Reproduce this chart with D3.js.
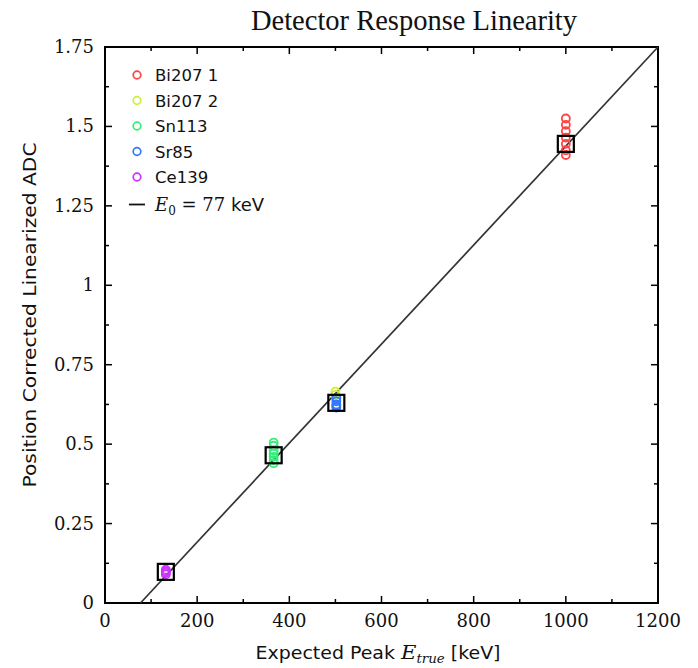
<!DOCTYPE html>
<html>
<head>
<meta charset="utf-8">
<script src="https://cdn.jsdelivr.net/npm/d3@7"></script>
<style>
  body { margin: 0; background: #fff; }
  svg { display: block; }
</style>
</head>
<body>
<svg id="plot" width="698" height="668"></svg>
<script>
// data
const sources = ["Bi207 1", "Bi207 2", "Sn113", "Sr85", "Ce139"];
const sourceColors = ["#ff4444", "#ccf033", "#33ee77", "#3377ff", "#cc33ff"];
const sourceEnergy = [1000, 500, 366, 502, 132];
const sourceValues = [
  [1.525, 1.505, 1.485, 1.465, 1.445, 1.425, 1.41],
  [0.665, 0.655],
  [0.505, 0.495, 0.48, 0.47, 0.46, 0.45, 0.44],
  [0.645, 0.635, 0.625, 0.62, 0.615],
  [0.105, 0.1, 0.095, 0.09]
];
const meanEnergy = [1000, 366, 502, 132];
const meanValues = [1.445, 0.465, 0.63, 0.098];
const fitE0 = 77;
const fitLine = [[fitE0, 0], [1200, 1.75]];
const xTicks = [0, 200, 400, 600, 800, 1000, 1200];
const xMinor = [100, 300, 500, 700, 900, 1100];
const yTicks = [0, 0.25, 0.5, 0.75, 1, 1.25, 1.5, 1.75];
const yMinor = [0.125, 0.375, 0.625, 0.875, 1.125, 1.375, 1.625];

const svg = d3.select("#plot");
const margin = { top: 47, right: 40, bottom: 65, left: 105 };
const panel = { width: 698 - margin.left - margin.right, height: 668 - margin.top - margin.bottom };

const x = d3.scaleLinear([0, 1200], [0, panel.width]);
const y = d3.scaleLinear([0, 1.75], [panel.height, 0]);

const g = svg.append("g").attr("transform", `translate(${margin.left}, ${margin.top})`);

// frame
g.append("rect")
  .attr("width", panel.width).attr("height", panel.height)
  .attr("fill", "none").attr("stroke", "#000").attr("stroke-width", 2);

// ticks, inward on all four sides
const tickG = g.append("g").attr("stroke", "#000").attr("stroke-width", 1.5);
const tick = (vals, len) => {
  vals.forEach(v => {
    tickG.append("line").attr("x1", x(v)).attr("x2", x(v)).attr("y1", panel.height).attr("y2", panel.height - len);
    tickG.append("line").attr("x1", x(v)).attr("x2", x(v)).attr("y1", 0).attr("y2", len);
  });
};
const tickY = (vals, len) => {
  vals.forEach(v => {
    tickG.append("line").attr("y1", y(v)).attr("y2", y(v)).attr("x1", 0).attr("x2", len);
    tickG.append("line").attr("y1", y(v)).attr("y2", y(v)).attr("x1", panel.width).attr("x2", panel.width - len);
  });
};
tick(xTicks.slice(1, -1), 7);
tick(xMinor, 4);
tickY(yTicks.slice(1, -1), 7);
tickY(yMinor, 4);

// tick labels
const labelFont = "'DejaVu Serif', serif";
g.selectAll(".xlab").data(xTicks).join("text")
  .attr("x", d => x(d)).attr("y", panel.height + 24)
  .attr("text-anchor", "middle")
  .attr("font-family", labelFont).attr("font-size", 18).attr("fill", "#111")
  .text(d => d);
g.selectAll(".ylab").data(yTicks).join("text")
  .attr("x", -11).attr("y", d => y(d) + 6)
  .attr("text-anchor", "end")
  .attr("font-family", labelFont).attr("font-size", 18).attr("fill", "#111")
  .text(d => d);

// fit line
g.append("path")
  .datum(fitLine)
  .attr("d", d3.line().x(d => x(d[0])).y(d => y(d[1])))
  .attr("stroke", "#333").attr("stroke-width", 1.7).attr("fill", "none");

// data points
sources.forEach((s, i) => {
  g.selectAll(".pt" + i).data(sourceValues[i]).join("circle")
    .attr("cx", x(sourceEnergy[i])).attr("cy", d => y(d))
    .attr("r", 4)
    .attr("fill", "none").attr("stroke", sourceColors[i]).attr("stroke-width", 1.8);
});

// mean markers
g.selectAll(".mean").data(meanValues).join("rect")
  .attr("x", (d, i) => x(meanEnergy[i]) - 8)
  .attr("y", d => y(d) - 8)
  .attr("width", 16).attr("height", 16)
  .attr("fill", "none").attr("stroke", "#000").attr("stroke-width", 2.2);

// legend
const legend = g.append("g").attr("transform", "translate(32, 28)");
sources.forEach((s, i) => {
  legend.append("circle").attr("cx", 0).attr("cy", i * 25.5)
    .attr("r", 3.8).attr("fill", "none").attr("stroke", sourceColors[i]).attr("stroke-width", 1.7);
  legend.append("text").attr("x", 18).attr("y", i * 25.5 + 6)
    .attr("font-family", "'DejaVu Sans', sans-serif").attr("font-size", 16.5).attr("fill", "#111")
    .text(s);
});
legend.append("line").attr("x1", -8).attr("x2", 8).attr("y1", 5 * 25.5 + 2).attr("y2", 5 * 25.5 + 2)
  .attr("stroke", "#111").attr("stroke-width", 1.8);
const fitText = legend.append("text").attr("x", 18).attr("y", 5 * 25.5 + 8)
  .attr("font-family", "'DejaVu Serif', serif").attr("font-size", 18).attr("fill", "#111");
fitText.append("tspan").attr("font-style", "italic").text("E");
fitText.append("tspan").attr("font-size", 12).attr("dy", 4).text("0");
fitText.append("tspan").attr("dy", -4).text(` = ${fitE0} `);
fitText.append("tspan").attr("font-family", "'DejaVu Sans', sans-serif").text("keV");

// title
svg.append("text")
  .attr("x", 414).attr("y", 30).attr("text-anchor", "middle")
  .attr("font-family", "'Liberation Serif', serif").attr("font-size", 28.5).attr("fill", "#111")
  .text("Detector Response Linearity");

// axis titles
const xt = svg.append("text")
  .attr("x", 378).attr("y", 659).attr("text-anchor", "middle")
  .attr("font-family", "'DejaVu Sans', sans-serif").attr("font-size", 17).attr("fill", "#111")
  .attr("textLength", 245).attr("lengthAdjust", "spacingAndGlyphs");
xt.append("tspan").text("Expected Peak ");
xt.append("tspan").attr("font-family", "'DejaVu Serif', serif").attr("font-style", "italic").attr("font-size", 19).text("E");
xt.append("tspan").attr("font-family", "'DejaVu Serif', serif").attr("font-style", "italic").attr("font-size", 12).attr("dy", 4).text("true");
xt.append("tspan").attr("dy", -4).text(" [keV]");

svg.append("text")
  .attr("transform", `translate(36, 315) rotate(-90)`)
  .attr("text-anchor", "middle")
  .attr("font-family", "'DejaVu Sans', sans-serif").attr("font-size", 18).attr("fill", "#111")
  .attr("textLength", 345).attr("lengthAdjust", "spacingAndGlyphs")
  .text("Position Corrected Linearized ADC");
</script>
</body>
</html>
